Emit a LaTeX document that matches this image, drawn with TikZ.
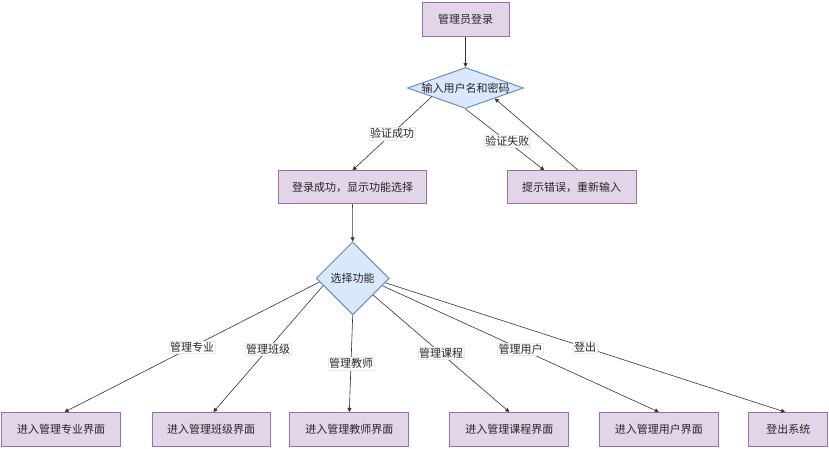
\documentclass[tikz,border=0pt]{standalone}
\usepackage{fontspec}
\setmainfont{Noto Sans CJK SC}
\usetikzlibrary{arrows.meta,calc,shapes.geometric}
\definecolor{boxfill}{HTML}{E1D5E7}
\definecolor{boxdraw}{HTML}{9673A6}
\definecolor{diafill}{HTML}{DAE8FC}
\definecolor{diadraw}{HTML}{6C8EBF}
\definecolor{edgecol}{HTML}{333333}
\begin{document}
\begin{tikzpicture}[x=1pt,y=-1pt,
  every node/.style={font=\fontsize{11}{13}\selectfont, text=black!85},
  pbox/.style={draw=boxdraw, fill=boxfill, line width=1pt, rectangle, inner sep=0pt, minimum height=#1},
  pbox/.default=34pt,
  dia/.style={draw=diadraw, fill=diafill, line width=1pt, diamond, inner sep=0pt},
  conn/.style={draw=edgecol, line width=0.6pt, -{Triangle[length=4pt,width=4pt]}},
  elab/.style={fill=white, draw=black!8, line width=0.3pt, inner sep=1pt}
]
\useasboundingbox (0,0) rectangle (829,448);
% top
\node[pbox, minimum width=87pt] (login) at (465.5,19) {管理员登录};
\node[dia, minimum width=116pt, minimum height=41pt] (d1) at (465.5,88) {\makebox[0pt]{输入用户名和密码}};
\node[pbox=33pt, minimum width=148pt] (ok) at (352.5,187.3) {登录成功，显示功能选择};
\node[pbox=33pt, minimum width=129pt] (err) at (571.7,187.3) {提示错误，重新输入};
\node[dia, minimum width=73pt, minimum height=73pt] (d2) at (352.7,278.3) {\makebox[0pt]{选择功能}};
% bottom
\node[pbox, minimum width=119pt] (b1) at (61,429.5) {进入管理专业界面};
\node[pbox, minimum width=118pt] (b2) at (211,429.5) {进入管理班级界面};
\node[pbox, minimum width=119pt] (b3) at (349.3,429.5) {进入管理教师界面};
\node[pbox, minimum width=119pt] (b4) at (509.3,429.5) {进入管理课程界面};
\node[pbox, minimum width=119pt] (b5) at (658.8,429.5) {进入管理用户界面};
\node[pbox, minimum width=79pt] (b6) at (788.3,429.5) {登出系统};
% connectors top
\draw[conn] (login) -- (d1);
\draw[conn] ($(d1.west)!0.42!(d1.south)$) -- node[elab, pos=0.5] {验证成功} (ok.north);
\draw[conn] (d1.south) -- node[elab, pos=0.53] {验证失败} ($(err.north west)!0.29!(err.north east)$);
\draw[conn] ($(err.north west)!0.55!(err.north east)$) -- ($(d1.south)!0.5!(d1.east)$);
\draw[conn] (ok) -- (d2);
% connectors bottom
\draw[conn] ($(d2.west)!0.1!(d2.south)$) -- node[elab, pos=0.5] {管理专业} ($(b1.north west)!0.53!(b1.north east)$);
\draw[conn] ($(d2.west)!0.2!(d2.south)$) -- node[elab, pos=0.5] {管理班级} ($(b2.north west)!0.52!(b2.north east)$);
\draw[conn] (d2.south) -- node[elab, pos=0.5] {管理教师} (b3.north);
\draw[conn] ($(d2.south)!0.55!(d2.east)$) -- node[elab, pos=0.5] {管理课程} (b4.north);
\draw[conn] ($(d2.south)!0.8!(d2.east)$) -- node[elab, pos=0.5] {管理用户} (b5.north);
\draw[conn] ($(d2.south)!0.88!(d2.east)$) -- node[elab, pos=0.5] {登出} ($(b6.north west)!0.46!(b6.north east)$);
\end{tikzpicture}
\end{document}
